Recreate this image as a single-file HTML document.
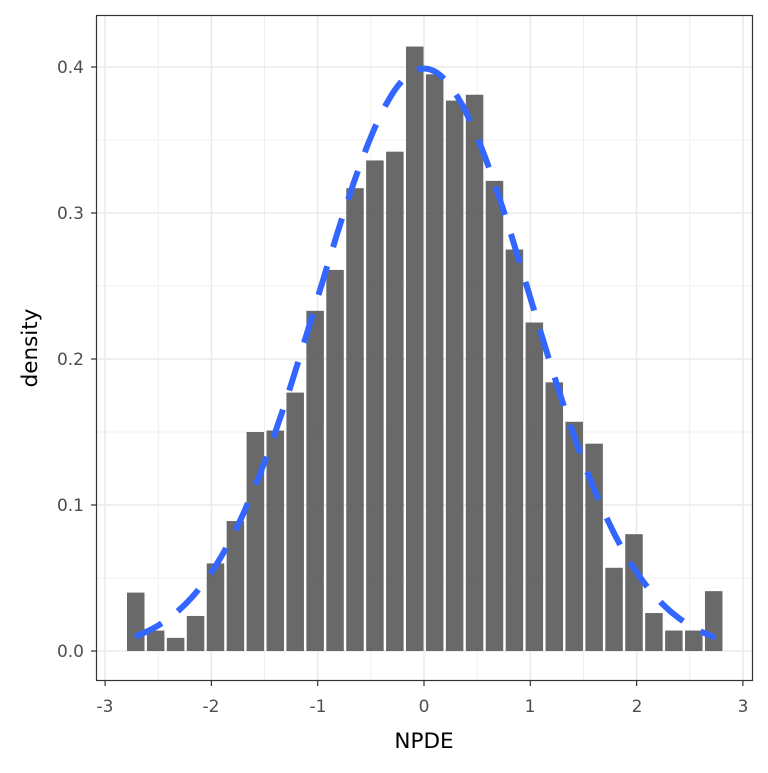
<!DOCTYPE html><html><head><style>body{margin:0;background:#fff}text{font-family:"DejaVu Sans","Liberation Sans",sans-serif}</style></head><body>
<svg id="s" width="768" height="768" xmlns="http://www.w3.org/2000/svg">
<rect width="768" height="768" fill="#fff"/>
<g id="grid" stroke="#ebebeb"></g>
<g id="bars"></g>
<path id="curve" fill="none" stroke="#3366FF" stroke-width="6" stroke-dasharray="30,20"/>
<rect x="96.5" y="15.5" width="656" height="665" fill="none" stroke="#333" stroke-width="1.2"/>
<g id="ticks" stroke="#333" stroke-width="1.2"></g>
<g fill="#4d4d4d" font-size="17" text-anchor="end">
<text x="84" y="657">0.0</text><text x="84" y="511">0.1</text><text x="84" y="365">0.2</text><text x="84" y="219">0.3</text><text x="84" y="73">0.4</text>
</g>
<g fill="#4d4d4d" font-size="17" text-anchor="middle">
<text x="105" y="712">-3</text><text x="211" y="712">-2</text><text x="318" y="712">-1</text><text x="424" y="712">0</text><text x="530" y="712">1</text><text x="637" y="712">2</text><text x="743" y="712">3</text>
</g>
<text x="424" y="748" font-size="21.5" text-anchor="middle">NPDE</text>
<text transform="translate(37,348) rotate(-90)" font-size="21.5" text-anchor="middle">density</text>
</svg>
<script>
var X=v=>424+v*106.3, Y=v=>651-v*1460;
var g=document.getElementById('grid'),t=document.getElementById('ticks'),b=document.getElementById('bars'),h='',tk='';
for(var i=-3;i<=3;i+=0.5){var x=X(i);h+='<line x1="'+x+'" x2="'+x+'" y1="16" y2="680" stroke-width="'+(i%1?0.8:1.6)+'"/>';if(i%1==0)tk+='<line x1="'+x+'" x2="'+x+'" y1="681" y2="686"/>';}
for(var j=0;j<=9;j++){var v=j*0.05,y=Y(v);if(y<16)continue;h+='<line y1="'+y+'" y2="'+y+'" x1="97" x2="752" stroke-width="'+(j%2?0.8:1.6)+'"/>';if(j%2==0)tk+='<line y1="'+y+'" y2="'+y+'" x1="91" x2="96"/>';}
g.innerHTML=h;t.innerHTML=tk;
var d=[0.04,0.014,0.009,0.024,0.060,0.089,0.150,0.151,0.177,0.233,0.261,0.317,0.336,0.342,0.414,0.395,0.377,0.381,0.322,0.275,0.225,0.184,0.157,0.142,0.057,0.080,0.026,0.014,0.014,0.041];
var hb='';d.forEach((v,k)=>{var x=127+k*19.93;hb+='<rect x="'+x+'" y="'+Y(v)+'" width="17.5" height="'+(651-Y(v))+'" fill="#595959" fill-opacity="0.9"/>';});
b.innerHTML=hb;
var p='';for(var z=-2.72;z<=2.76;z+=0.02){var dv=Math.exp(-z*z/2)/Math.sqrt(2*Math.PI);p+=(p?'L':'M')+X(z).toFixed(1)+','+Y(dv).toFixed(1);}
document.getElementById('curve').setAttribute('d',p);
</script>
</body></html>
